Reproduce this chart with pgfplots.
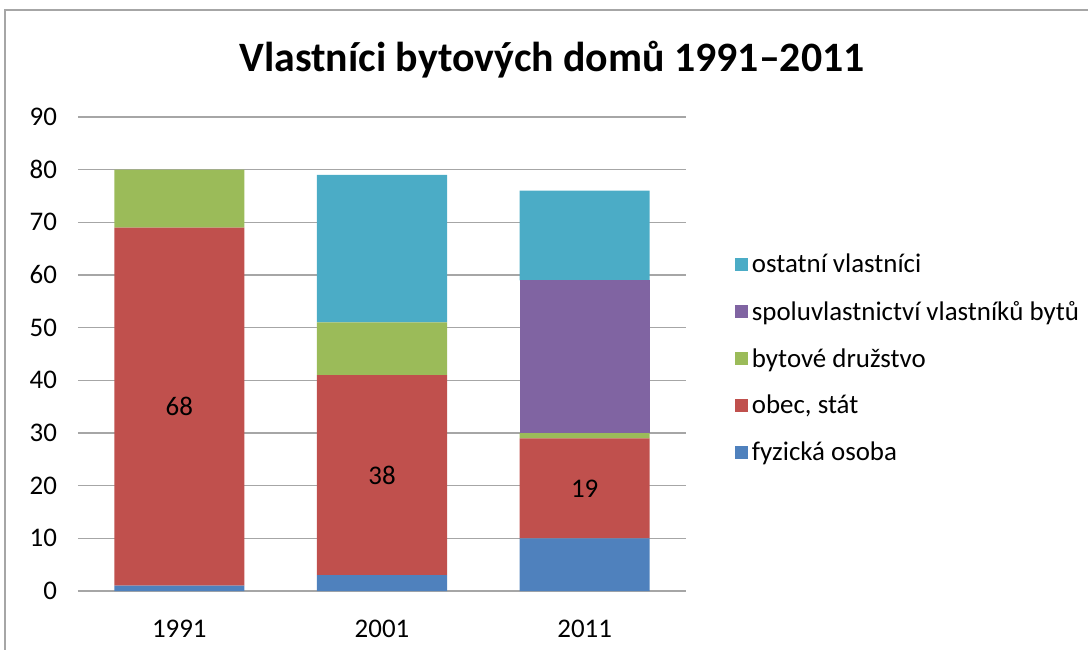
\documentclass[border=0pt]{standalone}
\usepackage{pgfplots}
\pgfplotsset{compat=1.18}
\usepackage{pgfplotstable}
\usepackage{fontspec}
\setmainfont{Carlito}
\definecolor{cblue}{HTML}{4F81BD}
\definecolor{cred}{HTML}{C0504D}
\definecolor{cgreen}{HTML}{9BBB59}
\definecolor{cpurple}{HTML}{8064A2}
\definecolor{ccyan}{HTML}{4BACC6}
\definecolor{gridc}{HTML}{A6A6A6}
\pgfplotstableread{
x fyz obec druz spol ost
0 1 68 11 0 0
1 3 38 10 0 28
2 10 19 1 29 17
}\datatab
\begin{document}
\begin{tikzpicture}
\useasboundingbox (0,0) rectangle (544bp,325bp);
\draw[gridc, line width=1bp] (2.5bp,-5bp) -- (2.5bp,320bp) -- (560bp,320bp);
\node[font=\fontsize{21}{25}\selectfont\bfseries] at (276bp,295bp) {Vlastníci bytových domů 1991–2011};
\begin{axis}[
  at={(39bp,29.5bp)}, anchor=south west,
  scale only axis, width=304bp, height=237bp,
  ybar stacked, bar width=65bp,
  xmin=-0.5, xmax=2.5, ymin=0, ymax=90,
  xtick={0,1,2}, xticklabels={1991,2001,2011},
  ytick={0,10,...,90},
  major tick length=0,
  axis x line*=bottom, axis y line*=left,
  x axis line style={gridc, line width=0.8bp},
  y axis line style={draw=none},
  ymajorgrids, grid style={gridc, line width=0.8bp},
  tick label style={font=\fontsize{13.5}{16}\selectfont},
  /pgf/number format/assume math mode=true,
  xticklabel style={yshift=-11bp},
  yticklabel style={xshift=-7bp},
  legend cell align=left,
  reverse legend,
  legend style={draw=none, at={(1.07,0.728)}, anchor=north west,
    font=\fontsize{13.5}{16}\selectfont, row sep=8.6bp},
  legend image code/.code={\fill[#1] (0bp,-3bp) rectangle (6.5bp,3.5bp);},
  clip=false,
]
\addplot[fill=cblue, draw=none] table[x=x,y=fyz]{\datatab};
\addlegendentry{fyzická osoba}
\addplot[fill=cred, draw=none,
  nodes near coords,
  every node near coord/.append style={font=\fontsize{13.5}{16}\selectfont, text=black, anchor=center},
] table[x=x,y=obec]{\datatab};
\addlegendentry{obec, stát}
\addplot[fill=cgreen, draw=none] table[x=x,y=druz]{\datatab};
\addlegendentry{bytové družstvo}
\addplot[fill=cpurple, draw=none] table[x=x,y=spol]{\datatab};
\addlegendentry{spoluvlastnictví vlastníků bytů}
\addplot[fill=ccyan, draw=none] table[x=x,y=ost]{\datatab};
\addlegendentry{ostatní vlastníci}
\end{axis}
\end{tikzpicture}
\end{document}
